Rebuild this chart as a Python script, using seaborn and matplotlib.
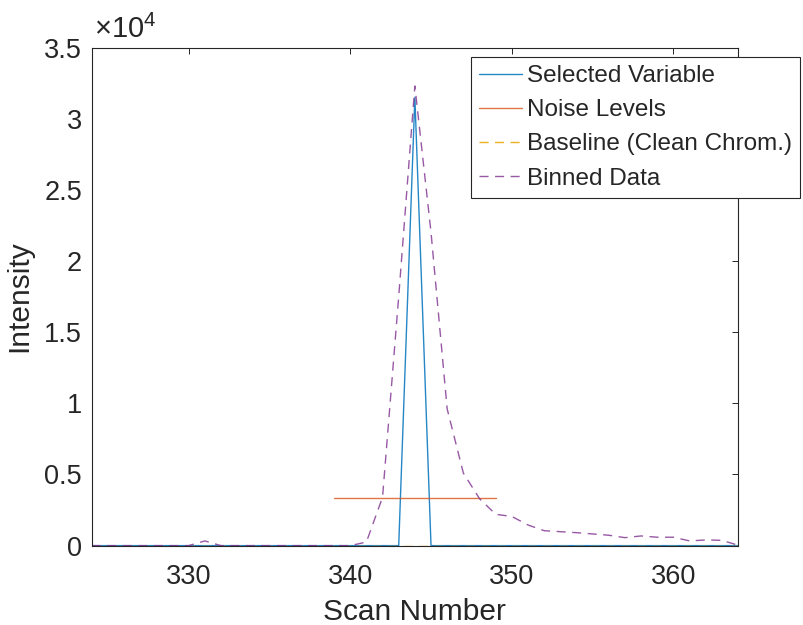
import matplotlib
matplotlib.use("Agg")
import matplotlib.pyplot as plt
import seaborn as sns
from matplotlib.ticker import FuncFormatter

# Valores (scan 324..364)
scans = [324, 325, 326, 327, 328, 329, 330, 331, 332, 333, 334, 335, 336, 337,
         338, 339, 340, 341, 342, 343, 344, 345, 346, 347, 348, 349, 350, 351,
         352, 353, 354, 355, 356, 357, 358, 359, 360, 361, 362, 363, 364]
selected = [0, 0, 0, 0, 0, 0, 0, 0, 0, 0, 0, 0, 0, 0,
            0, 0, 0, 0, 0, 0, 31500, 0, 0, 0, 0, 0, 0, 0,
            0, 0, 0, 0, 0, 0, 0, 0, 0, 0, 0, 0, 0]
baseline = [0, 0, 0, 0, 0, 0, 0, 0, 0, 0, 0, 0, 0, 0,
            0, 0, 0, 0, 0, 0, 0, 0, 0, 0, 0, 0, 0, 0,
            0, 0, 0, 0, 0, 0, 0, 0, 0, 0, 0, 0, 0]
binned = [0, 0, 0, 0, 0, 0, 0, 330, 0, 0, 0, 0, 0, 0,
          0, 0, 0, 250, 3400, 17500, 32300, 22000, 9600, 5100, 3300, 2200, 2050, 1450,
          1050, 980, 910, 820, 730, 560, 680, 590, 590, 330, 400, 370, 30]
noise_x = [339, 349]
noise_y = [3370, 3370]

labels = ["Selected Variable", "Noise Levels", "Baseline (Clean Chrom.)", "Binned Data"]
cores = ["#0072BD", "#D95319", "#EDB120", "#7E2F8E"]

sns.set_style("white")
plt.rcParams["font.family"] = ["Liberation Sans", "DejaVu Sans"]
plt.rcParams["mathtext.fontset"] = "custom"
plt.rcParams["mathtext.rm"] = "Liberation Sans"
plt.rcParams["mathtext.it"] = "Liberation Sans"
texto = "#262626"

fig = plt.figure(figsize=(8.04, 6.25), dpi=100)
ax = fig.add_axes([0.114, 0.127, 0.804, 0.797])

tracejado = (0, (6.5, 4.7))
sns.lineplot(x=scans, y=selected, ax=ax, color=cores[0], lw=1.0, alpha=0.85, label=labels[0])
sns.lineplot(x=noise_x, y=noise_y, ax=ax, color=cores[1], lw=1.0, alpha=0.8, label=labels[1])
sns.lineplot(x=scans, y=baseline, ax=ax, color=cores[2], lw=1.0, linestyle=tracejado, label=labels[2])
sns.lineplot(x=scans, y=binned, ax=ax, color=cores[3], lw=1.0, alpha=0.8, linestyle=tracejado, label=labels[3])

ax.set_xlim(324, 364)
ax.set_ylim(0, 35000)
ax.set_xticks([330, 340, 350, 360])
ax.set_yticks([0, 5000, 10000, 15000, 20000, 25000, 30000, 35000])
ax.yaxis.set_major_formatter(FuncFormatter(lambda v, p: f"{v / 1e4:g}"))

ax.tick_params(axis="both", direction="in", length=4.3, width=0.7, colors=texto,
               labelsize=19.5, top=True, right=True)
ax.tick_params(axis="x", pad=13)
ax.tick_params(axis="y", pad=7)
for s in ax.spines.values():
    s.set_color(texto)
    s.set_linewidth(0.8)

ax.set_xlabel("Scan Number", fontsize=21.5, color=texto, labelpad=6)
ax.set_ylabel("Intensity", fontsize=21.5, color=texto, labelpad=8)
ax.text(0.003, 1.008, r"$\times\mathregular{10^4}$", transform=ax.transAxes,
        ha="left", va="bottom", fontsize=21, color=texto)

leg = ax.legend(loc="upper left", bbox_to_anchor=(470.7 / 804, 1 - 57 / 625),
                bbox_transform=fig.transFigure, borderaxespad=0, fontsize=17.5,
                frameon=True, fancybox=False, framealpha=1, borderpad=0.33,
                handlelength=1.8, handletextpad=0.2, labelspacing=0.5)
leg.get_frame().set_edgecolor(texto)
leg.get_frame().set_linewidth(0.8)

fig.savefig("out.png", dpi=100)
